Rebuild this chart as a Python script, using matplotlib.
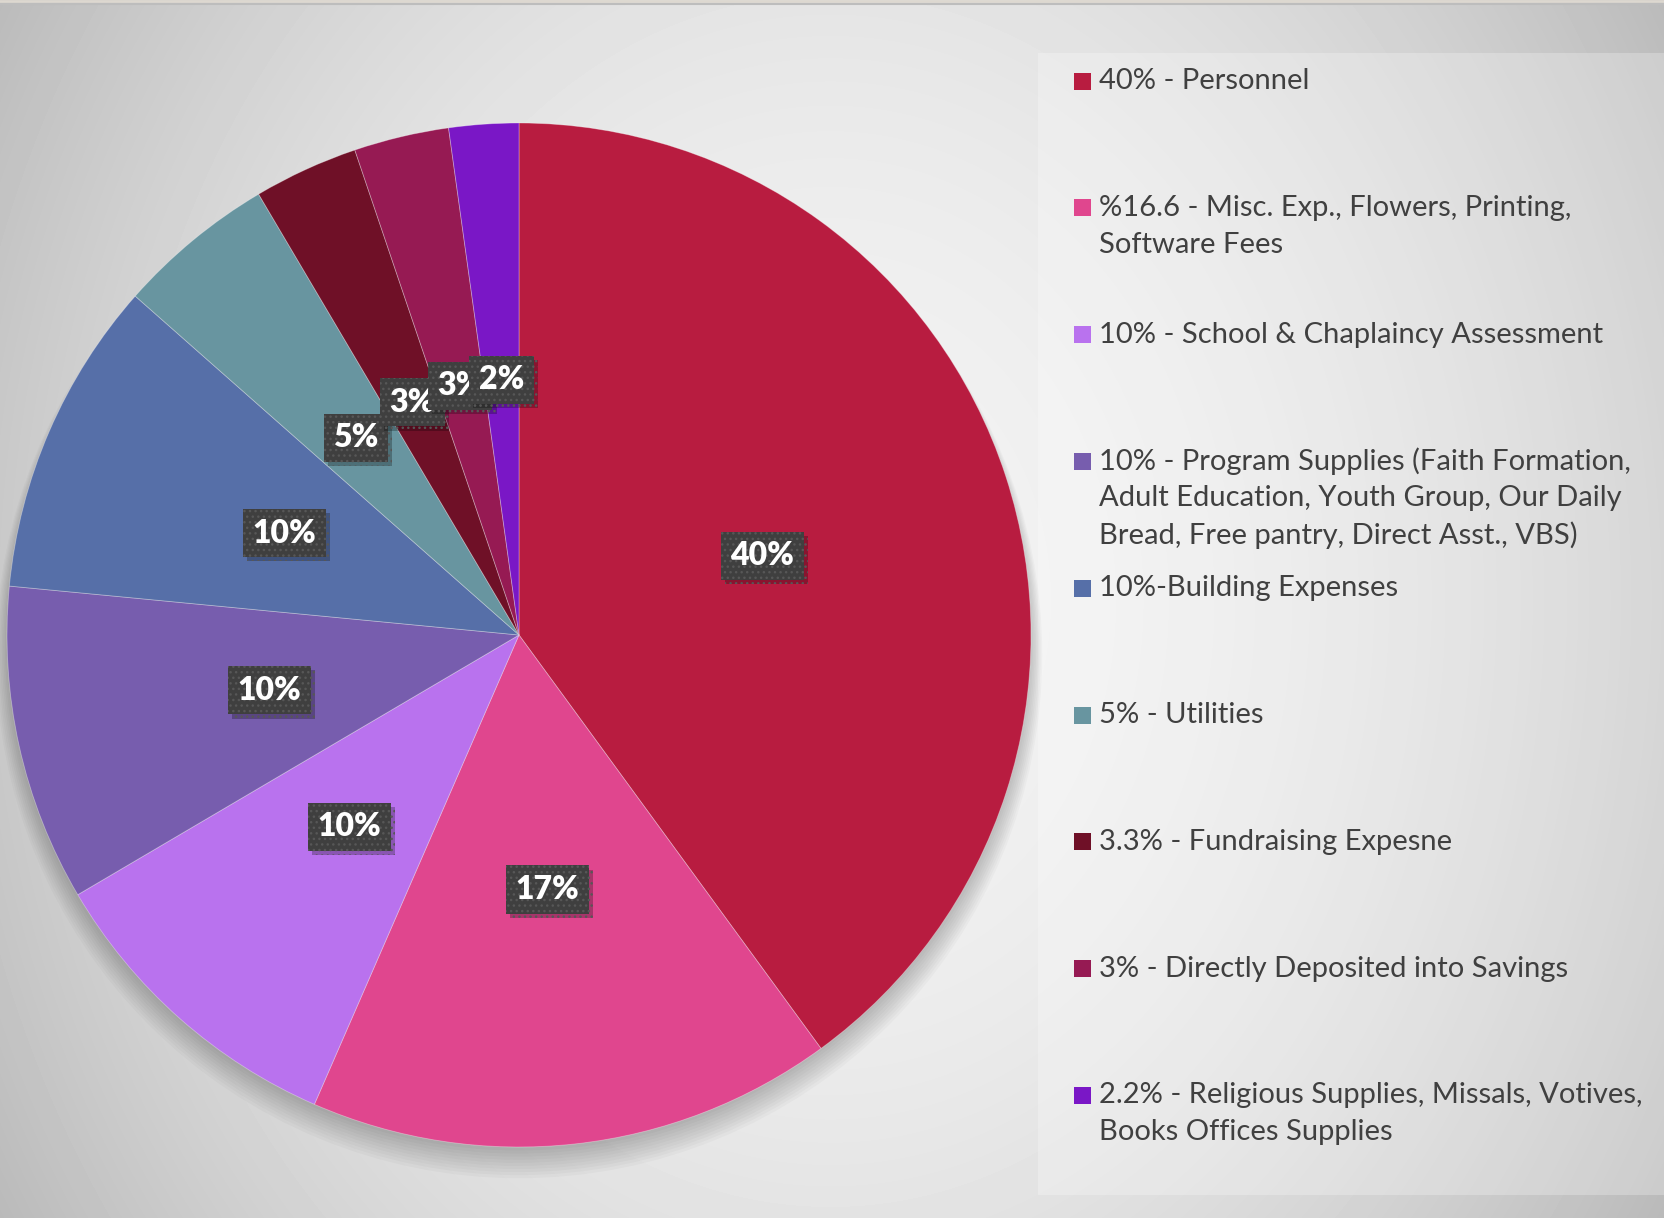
import numpy as np
import matplotlib
matplotlib.use('Agg')
import matplotlib.pyplot as plt
from matplotlib.patches import Rectangle, Circle
import matplotlib.patheffects as pe

plt.rcParams['font.family'] = ['Lato', 'DejaVu Sans']

# budget shares (percent), in drawing order: clockwise from 12 o'clock
shares = [40, 16.6, 10, 10, 10, 5, 3.3, 3, 2.2]
legend_labels = [
    '40% - Personnel',
    '%16.6 - Misc. Exp., Flowers, Printing,\nSoftware Fees',
    '10% - School & Chaplaincy Assessment',
    '10% - Program Supplies (Faith Formation,\nAdult Education, Youth Group, Our Daily\nBread, Free pantry, Direct Asst., VBS)',
    '10%-Building Expenses',
    '5% - Utilities',
    '3.3% - Fundraising Expesne',
    '3% - Directly Deposited into Savings',
    '2.2% - Religious Supplies, Missals, Votives,\nBooks Offices Supplies',
]
colors = ['#B81C40', '#E0468E', '#B972EE', '#775DAE', '#566FA8',
          '#6895A0', '#6F1027', '#961A53', '#7A17C6']

W, H = 1665, 1218
fig = plt.figure(figsize=(W / 100, H / 100), dpi=100)

# slide-like background: radial grey gradient + lighter legend panel
bg = fig.add_axes([0, 0, 1, 1])
bg.set_xlim(0, W)
bg.set_ylim(H, 0)
bg.axis('off')
yy, xx = np.mgrid[0:H, 0:W]
d2 = ((xx - 830) / 900) ** 2 + ((yy - 600) / 1100) ** 2
shade = np.clip(243 - 49 * d2, 185, 245) / 255
bg.imshow(shade, cmap='gray', vmin=0, vmax=1, extent=(0, W, H, 0),
          aspect='auto', zorder=0, interpolation='bilinear')
bg.add_patch(Rectangle((1038, 53), W - 1038, 1195 - 53, fc='white',
                       alpha=0.25, lw=0, zorder=1))
bg.axhline(1, color='#ddd8d0', lw=2, zorder=2)
bg.axhline(3.5, color='#bdbdbd', lw=1.5, zorder=2)

# legend, drawn by hand so entries keep the slide's even slots
slot0, slot_step, line_step = 81, 126.8, 36.8
for i, (lab, c) in enumerate(zip(legend_labels, colors)):
    y = slot0 + i * slot_step
    bg.add_patch(Rectangle((1074, y - 8.5), 17, 17, fc=c, lw=0, zorder=3))
    for k, line in enumerate(lab.split('\n')):
        bg.text(1099, y + k * line_step, line, fontsize=21, color='#404040',
                va='center', ha='left', zorder=3)

# pie
R = 512
lim = 1.02
cx, cy = 519, 635
side = 2 * lim * R
ax = fig.add_axes([(cx - side / 2) / W, (H - cy - side / 2) / H, side / W, side / H])
ax.set_facecolor('none')

# soft shadow under the pie, mostly towards the bottom
for i in range(10):
    ax.add_patch(Circle((0, -0.012 - 0.003 * i), 0.995 + 0.003 * i, color='black',
                        alpha=0.025, lw=0, zorder=0, clip_on=False))

wedges, texts, autotexts = ax.pie(
    shares, colors=colors, startangle=90, counterclock=False, radius=1,
    autopct='%.0f%%', pctdistance=0.5,
    wedgeprops=dict(linewidth=0.6, edgecolor=(1, 1, 1, 0.35), zorder=1),
    textprops=dict(color='white', fontsize=23, fontweight='heavy'))

for w in wedges:
    w.set_clip_on(False)

for t in autotexts:
    t.set_zorder(5)
    t.set_bbox(dict(boxstyle='square,pad=0.3', fc='#3f3f3f', ec='#575757',
                    lw=0, hatch='...'))
    t.get_bbox_patch().set_path_effects(
        [pe.SimplePatchShadow(offset=(3, -3), shadow_rgbFace='black', alpha=0.25),
         pe.Normal()])

ax.set_xlim(-lim, lim)
ax.set_ylim(-lim, lim)
ax.set_aspect('equal')
ax.axis('off')

fig.savefig('out.png', dpi=100)
